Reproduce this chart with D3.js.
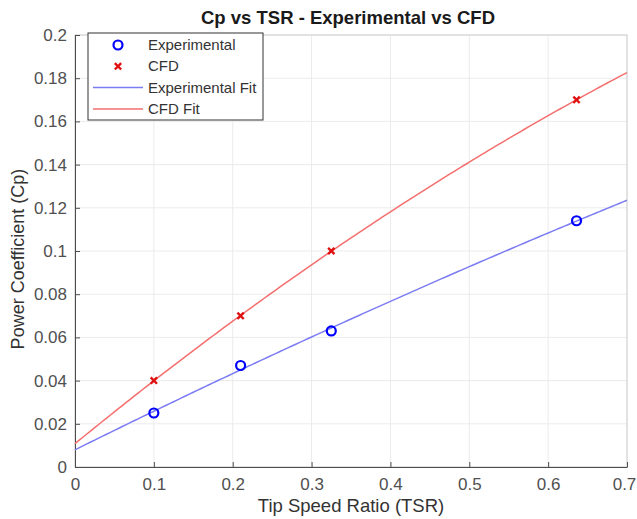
<!DOCTYPE html>
<html>
<head>
<meta charset="utf-8">
<script src="https://cdn.jsdelivr.net/npm/d3@7"></script>
<style>
  body { margin: 0; background: #fff; overflow: hidden; }
  text { font-family: "Liberation Sans", Arial, sans-serif; }
</style>
</head>
<body>
<div id="chart"></div>
<script>
// Data
const tsr = [0.1, 0.21, 0.325, 0.636];
const cpExperimental = [0.025, 0.047, 0.063, 0.114];
const cpCFD = [0.04, 0.07, 0.1, 0.17];
const xTicks = [0, 0.1, 0.2, 0.3, 0.4, 0.5, 0.6, 0.7];
const yTicks = [0, 0.02, 0.04, 0.06, 0.08, 0.1, 0.12, 0.14, 0.16, 0.18, 0.2];

// Dimensions
const W = 637, H = 519;
const margin = {top: 35, right: 10, bottom: 52, left: 75};
const width = W - margin.left - margin.right;
const height = H - margin.top - margin.bottom;

const svg = d3.select("#chart").append("svg")
    .attr("width", W)
    .attr("height", H);

const g = svg.append("g")
    .attr("transform", `translate(${margin.left},${margin.top})`);

const x = d3.scaleLinear().domain([0, 0.7]).range([0, width]);
const y = d3.scaleLinear().domain([0, 0.2]).range([height, 0]);

// quadratic least squares fit (same as polyfit(x, y, 2))
function polyfit2(xs, ys) {
    const n = xs.length;
    let s = [0, 0, 0, 0, 0], t = [0, 0, 0];
    for (let i = 0; i < n; i++) {
        for (let k = 0; k < 5; k++) s[k] += Math.pow(xs[i], k);
        for (let k = 0; k < 3; k++) t[k] += ys[i] * Math.pow(xs[i], k);
    }
    const A = [[s[0], s[1], s[2], t[0]], [s[1], s[2], s[3], t[1]], [s[2], s[3], s[4], t[2]]];
    for (let i = 0; i < 3; i++) {
        for (let j = i + 1; j < 3; j++) {
            const f = A[j][i] / A[i][i];
            for (let k = i; k < 4; k++) A[j][k] -= f * A[i][k];
        }
    }
    const c = [0, 0, 0];
    for (let i = 2; i >= 0; i--) {
        let v = A[i][3];
        for (let k = i + 1; k < 3; k++) v -= A[i][k] * c[k];
        c[i] = v / A[i][i];
    }
    return xv => c[0] + c[1] * xv + c[2] * xv * xv;
}

// Grid
g.append("g").selectAll("line").data(xTicks).enter().append("line")
    .attr("x1", d => x(d)).attr("x2", d => x(d))
    .attr("y1", 0).attr("y2", height)
    .attr("stroke", "#ebebeb");
g.append("g").selectAll("line").data(yTicks).enter().append("line")
    .attr("x1", 0).attr("x2", width)
    .attr("y1", d => y(d)).attr("y2", d => y(d))
    .attr("stroke", "#ebebeb");

// Box
g.append("rect")
    .attr("width", width).attr("height", height)
    .attr("fill", "none").attr("stroke", "#cfcfcf");

// Axes
const xAxis = g.append("g")
    .attr("transform", `translate(0,${height})`)
    .call(d3.axisBottom(x).tickValues(xTicks).tickSizeInner(-5).tickSizeOuter(0).tickFormat(d3.format("~g")));
const yAxis = g.append("g")
    .call(d3.axisLeft(y).tickValues(yTicks).tickSizeInner(-5).tickSizeOuter(0).tickFormat(d3.format("~g")));

[xAxis, yAxis].forEach(a => {
    a.select(".domain").attr("stroke", "#4d4d4d");
    a.selectAll(".tick line").attr("stroke", "#4d4d4d");
    a.selectAll(".tick text")
        .attr("fill", "#505050")
        .style("font-size", "17px")
        .style("font-family", "'Liberation Sans', Arial, sans-serif");
});
xAxis.selectAll(".tick text").attr("y", 8).attr("dy", "0.9em");
// last label sits at the window edge, nudge it in
xAxis.selectAll(".tick text").filter(d => d === 0.7).attr("dx", -3);
yAxis.selectAll(".tick text").attr("x", -8);

// Fit curves
const fitXs = d3.range(0, 0.7001, 0.005);
const fitExp = polyfit2(tsr, cpExperimental);
const fitCFD = polyfit2(tsr, cpCFD);
const line = d3.line().x(d => x(d[0])).y(d => y(d[1]));

g.append("path")
    .datum(fitXs.map(v => [v, fitExp(v)]))
    .attr("d", line)
    .attr("fill", "none")
    .attr("stroke", "#7b7bf5")
    .attr("stroke-width", 1.5);
g.append("path")
    .datum(fitXs.map(v => [v, fitCFD(v)]))
    .attr("d", line)
    .attr("fill", "none")
    .attr("stroke", "#f56e6e")
    .attr("stroke-width", 1.5);

// Markers
g.append("g").selectAll("circle").data(tsr).enter().append("circle")
    .attr("cx", d => x(d))
    .attr("cy", (d, i) => y(cpExperimental[i]))
    .attr("r", 4.5)
    .attr("fill", "none")
    .attr("stroke", "#0000ff")
    .attr("stroke-width", 2.2);

const cross = d3.symbol().type(d3.symbolX).size(28);
g.append("g").selectAll("path").data(tsr).enter().append("path")
    .attr("transform", (d, i) => `translate(${x(d)},${y(cpCFD[i])})`)
    .attr("d", cross)
    .attr("fill", "none")
    .attr("stroke", "#e01010")
    .attr("stroke-width", 2.4);

// Title and labels
svg.append("text")
    .attr("x", 348)
    .attr("y", 24)
    .attr("text-anchor", "middle")
    .style("font-size", "18.5px")
    .style("font-weight", "bold")
    .attr("fill", "#1a1a1a")
    .text("Cp vs TSR - Experimental vs CFD");

svg.append("text")
    .attr("x", margin.left + width / 2)
    .attr("y", 512)
    .attr("text-anchor", "middle")
    .style("font-size", "18.5px")
    .attr("fill", "#333")
    .text("Tip Speed Ratio (TSR)");

svg.append("text")
    .attr("transform", `translate(24,${margin.top + height / 2 + 8}) rotate(-90)`)
    .attr("text-anchor", "middle")
    .style("font-size", "18px")
    .attr("fill", "#333")
    .text("Power Coefficient (Cp)");

// Legend
const legendItems = [
    {label: "Experimental", type: "circle"},
    {label: "CFD", type: "cross"},
    {label: "Experimental Fit", type: "line", color: "#7b7bf5"},
    {label: "CFD Fit", type: "line", color: "#f56e6e"}
];
const legend = svg.append("g").attr("transform", "translate(88,33)");
legend.append("rect")
    .attr("width", 175).attr("height", 87)
    .attr("fill", "#fff").attr("stroke", "#333").attr("stroke-width", 1);

legendItems.forEach((it, i) => {
    const cy = 12 + i * 21.3;
    const row = legend.append("g");
    if (it.type === "circle") {
        row.append("circle").attr("cx", 30).attr("cy", cy).attr("r", 4.5)
            .attr("fill", "none").attr("stroke", "#0000ff").attr("stroke-width", 2.2);
    } else if (it.type === "cross") {
        row.append("path").attr("transform", `translate(30,${cy})`).attr("d", cross)
            .attr("fill", "none").attr("stroke", "#e01010").attr("stroke-width", 2.4);
    } else {
        row.append("line").attr("x1", 5).attr("x2", 55).attr("y1", cy).attr("y2", cy)
            .attr("stroke", it.color).attr("stroke-width", 1.5);
    }
    row.append("text").attr("x", 60).attr("y", cy + 5)
        .style("font-size", "15px").attr("fill", "#333").text(it.label);
});
</script>
</body>
</html>
